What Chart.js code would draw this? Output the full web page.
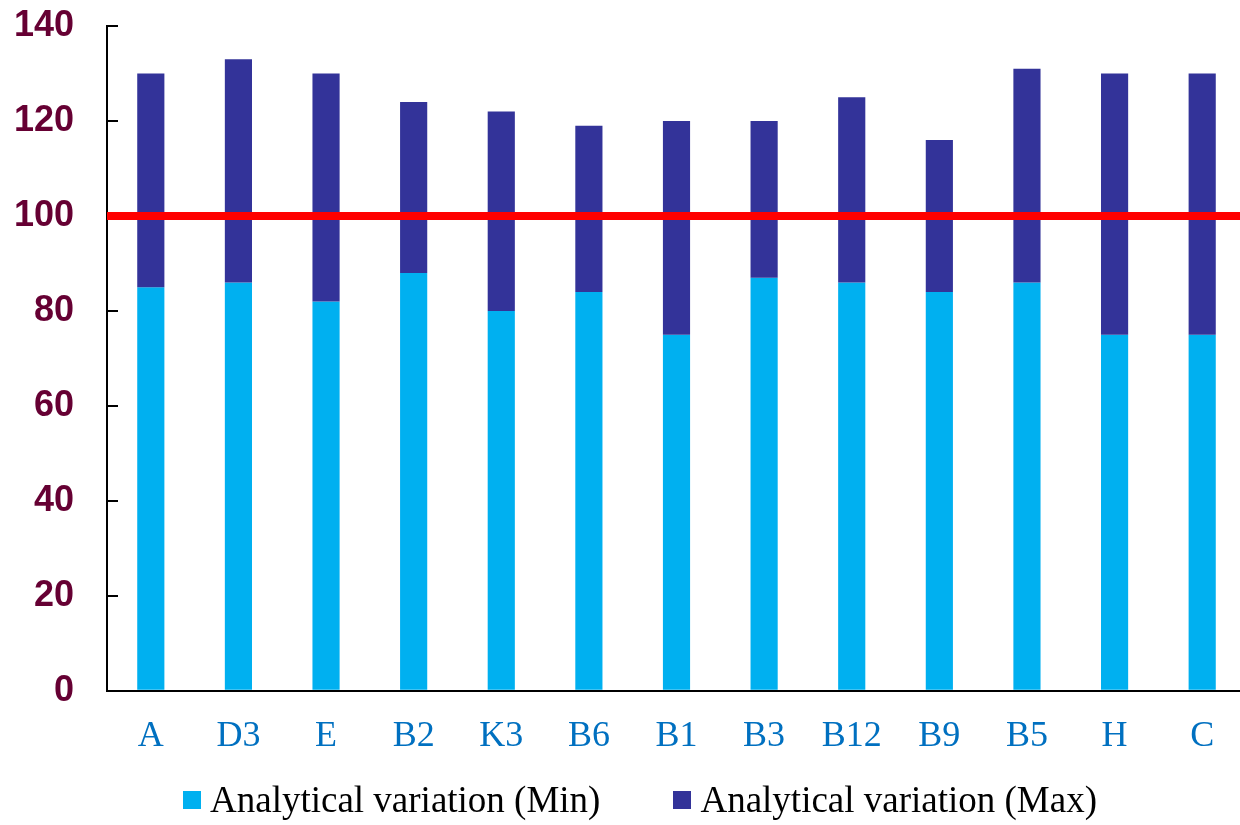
<!DOCTYPE html>
<html>
<head>
<meta charset="utf-8">
<script src="https://cdn.jsdelivr.net/npm/chart.js@4/dist/chart.umd.min.js"></script>
<style>
  html, body { margin: 0; padding: 0; background: #ffffff; overflow: hidden; }
  #wrap { position: relative; width: 1246px; height: 825px; }
  #legend {
    position: absolute; left: 183px; top: 781px; height: 37px;
    display: flex; align-items: center; gap: 73px;
    font-family: "Times New Roman", "Liberation Serif", serif; font-size: 37px; line-height: 1; color: #000;
  }
  .item { display: flex; align-items: center; white-space: nowrap; }
  .swatch { width: 18px; height: 18px; margin-right: 9px; }
</style>
</head>
<body>
<div id="wrap">
  <canvas id="chart" width="1246" height="825"></canvas>
  <div id="legend"></div>
</div>
<script>
// Categories and the analytical variation range for each one
const categories = ['A', 'D3', 'E', 'B2', 'K3', 'B6', 'B1', 'B3', 'B12', 'B9', 'B5', 'H', 'C'];
const minValues = [85, 86, 82, 88, 80, 84, 75, 87, 86, 84, 86, 75, 75];
const maxValues = [130, 133, 130, 124, 122, 119, 120, 120, 125, 116, 131, 130, 130];
const seriesNames = ['Analytical variation (Min)', 'Analytical variation (Max)'];
const seriesColors = ['#00B0F0', '#333399'];
const referenceLevel = 100;
const yMin = 0, yMax = 140, yStep = 20;

// Horizontal reference line across the plot area at the reference level
const referenceLine = {
  id: 'referenceLine',
  afterDatasetsDraw(chart) {
    const { ctx, chartArea, scales } = chart;
    const y = scales.y.getPixelForValue(referenceLevel);
    ctx.save();
    ctx.strokeStyle = '#FF0000';
    ctx.lineWidth = 8;
    ctx.beginPath();
    ctx.moveTo(chartArea.left, y);
    ctx.lineTo(chartArea.right, y);
    ctx.stroke();
    ctx.restore();
  }
};

const chart = new Chart(document.getElementById('chart'), {
  type: 'bar',
  data: {
    labels: categories,
    datasets: [
      {
        label: seriesNames[0],
        data: minValues,
        backgroundColor: seriesColors[0],
        grouped: false,
        order: 2
      },
      {
        label: seriesNames[1],
        data: minValues.map((m, i) => [m, maxValues[i]]),
        backgroundColor: seriesColors[1],
        grouped: false,
        order: 1
      }
    ]
  },
  options: {
    responsive: false,
    animation: false,
    events: [],
    layout: { padding: { top: 26, left: 0, right: 0, bottom: 43 } },
    datasets: { bar: { barPercentage: 0.31, categoryPercentage: 1 } },
    plugins: { legend: { display: false }, tooltip: { enabled: false } },
    scales: {
      x: {
        grid: { display: true, drawOnChartArea: false, drawTicks: false },
        border: { display: true, color: '#000000', width: 2 },
        ticks: {
          padding: 24,
          color: '#0070C0',
          font: { family: '"Times New Roman", "Liberation Serif", serif', size: 36 },
          maxRotation: 0, autoSkip: false
        }
      },
      y: {
        min: yMin, max: yMax,
        grid: { display: true, drawOnChartArea: false, drawTicks: true, tickLength: -11, color: '#000000', lineWidth: 2 },
        border: { display: true, color: '#000000', width: 2 },
        ticks: {
          stepSize: yStep,
          padding: 44,
          color: '#660033',
          font: { family: 'Arial, "Liberation Sans", sans-serif', size: 36, weight: 'bold' }
        },
        afterFit(scale) {
          scale.width = 107;
          scale.paddingTop = 0;
          scale.paddingBottom = 0;
        }
      }
    }
  },
  plugins: [referenceLine]
});

// Legend built from the chart's datasets
const legend = document.getElementById('legend');
chart.data.datasets.forEach(ds => {
  const item = document.createElement('div');
  item.className = 'item';
  const sw = document.createElement('span');
  sw.className = 'swatch';
  sw.style.background = ds.backgroundColor;
  const txt = document.createElement('span');
  txt.textContent = ds.label;
  item.appendChild(sw);
  item.appendChild(txt);
  legend.appendChild(item);
});
</script>
</body>
</html>
